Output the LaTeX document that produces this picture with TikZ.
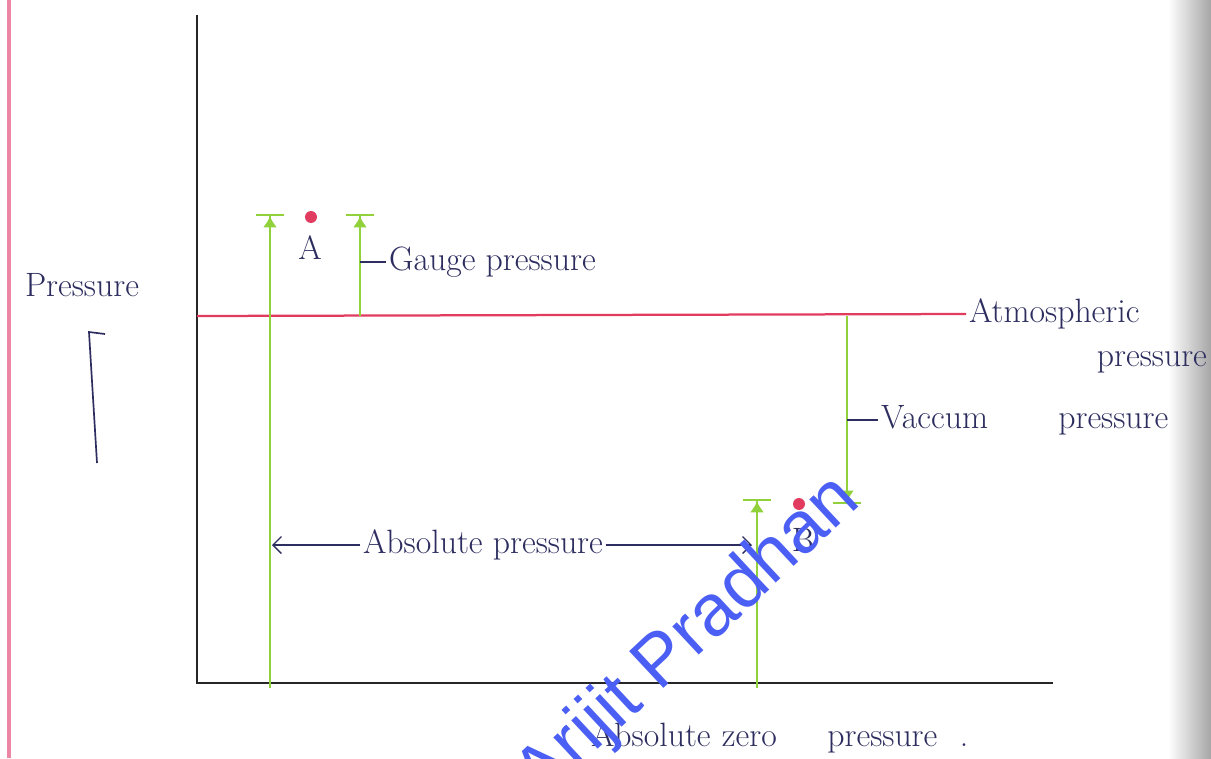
\documentclass[tikz,border=0pt]{standalone}
\usepackage{fontspec}
\newfontfamily\markfont{Liberation Sans}
\usetikzlibrary{arrows.meta}

\definecolor{inkblue}{RGB}{45,45,95}
\definecolor{pengreen}{RGB}{145,210,60}
\definecolor{penred}{RGB}{225,60,95}
\definecolor{marginpink}{RGB}{235,135,165}
\definecolor{markblue}{RGB}{75,95,245}

\begin{document}
\begin{tikzpicture}[x=0.025cm,y=-0.025cm,
		hand/.style={text=inkblue,font=\fontsize{24}{28}\selectfont,inner sep=2pt},
		level/.style={pengreen,line width=1.5pt,-{Latex[length=8pt,width=10pt] Bar[width=20pt,line width=1.5pt]}},
		axis/.style={black!85,line width=1.6pt},
		ink/.style={inkblue,line width=0.9pt},
		spot/.style={circle,fill=penred,inner sep=0pt,minimum size=8.5pt}]
	\clip (0,0) rectangle (1211,758);
	\fill[white] (0,0) rectangle (1211,758);
	% page margin and the shadow of the binding
	\draw[marginpink,line width=3pt] (9,0) -- (9,758);
	\shade[left color=white,right color=black!35] (1168,0) rectangle (1211,758);

	% axes
	\coordinate (o) at (197,683);
	\coordinate (ytop) at (197,15);
	\coordinate (xend) at (1053,683);
	\draw[axis] (ytop) -- (o) -- (xend);

	% atmospheric line
	\coordinate (atmL) at (197,316);
	\node[hand,anchor=west] (lblAtm) at (966,314) {Atmospheric};
	\node[hand,anchor=north east] (lblAtm2) at (1210,348) {pressure};
	\draw[penred,line width=1.6pt] (atmL) -- (lblAtm.west);

	% pressure levels
	\coordinate (absA0) at (270,688);
	\coordinate (absA1) at (270,214);
	\coordinate (gauge0) at (360,316);
	\coordinate (gauge1) at (360,214);
	\coordinate (absB0) at (757,688);
	\coordinate (absB1) at (757,499);
	\coordinate (vac0) at (847,316);
	\coordinate (vac1) at (847,504);
	\draw[level] (absA0) -- (absA1);
	\draw[level] (gauge0) -- (gauge1);
	\draw[level] (absB0) -- (absB1);
	\draw[level] (vac0) -- (vac1);

	\node[spot] (ptA) at (311,217) {};
	\node[hand] (txtA) at (310,248) {A};
	\node[spot] (ptB) at (799,504) {};
	\node[hand] (txtB) at (803,540) {B};

	% labels
	\coordinate (gaugeTick) at (360,262);
	\node[hand,anchor=west] (lblGauge) at (386,262) {Gauge pressure};
	\draw[ink] (gaugeTick) -- (lblGauge.west);

	\coordinate (vacTick) at (847,420);
	\node[hand,anchor=west] (lblVac) at (878,420) {Vaccum\hspace{50pt}pressure};
	\draw[ink] (vacTick) -- (lblVac.west);

	\node[hand] (lblAbs) at (483,545) {Absolute pressure};
	\coordinate (absTipL) at (272,545);
	\coordinate (absTipR) at (752,545);
	\draw[ink,-{Straight Barb[length=6pt]}] (lblAbs.west) -- (absTipL);
	\draw[ink,-{Straight Barb[length=6pt]}] (lblAbs.east) -- (absTipR);

	\node[hand] (lblP) at (82,285) {Pressure};
	\coordinate (upS) at (97,463);
	\coordinate (upE) at (89,332);
	\draw[ink,line width=1.2pt] (upS) -- (upE) -- ++(16,2);

	\node[hand,anchor=west] (lblZero) at (588,738) {Absolute\hspace{8pt}zero\hspace{36pt}pressure\hspace{16pt}.};

	% watermark
	\node[font=\markfont\fontsize{52}{52}\selectfont,text=markblue,rotate=43,
		anchor=base west,inner sep=0pt] (mark) at (541,803) {Arijit Pradhan};
\end{tikzpicture}
\end{document}
